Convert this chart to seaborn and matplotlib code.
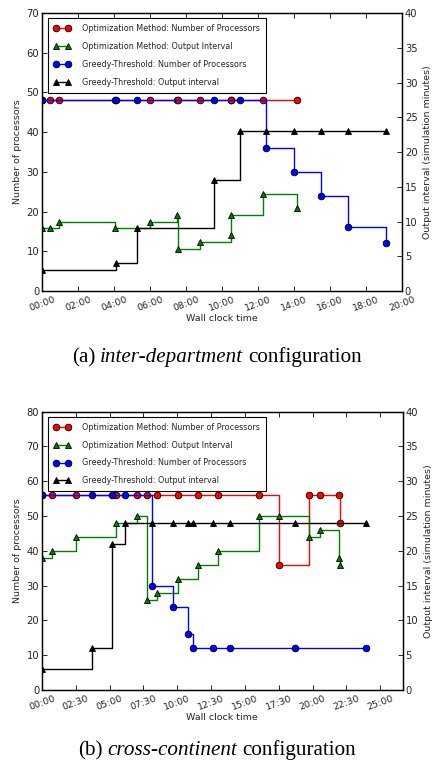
import matplotlib
matplotlib.use("Agg")
import matplotlib.pyplot as plt
import seaborn as sns
import pandas as pd
from matplotlib.lines import Line2D
from matplotlib.ticker import FuncFormatter, MultipleLocator

# ---------------- data (hours of wall clock time) ----------------
# (a) inter-department
a_opt_time = [0.0, 0.44, 0.96, 4.06, 6.0, 7.48, 7.57, 8.79, 10.49, 10.52, 12.3, 14.17]
a_opt_procs = [48, 48, 48, 48, 48, 48, 48, 48, 48, 48, 48, 48]
a_opt_interval = [9, 9, 10, 9, 10, 11, 6, 7, 8, 11, 14, 12]
a_greedy_time = [0.0, 4.1, 5.26, 9.53, 11.02, 12.46, 14.0, 15.51, 17.0, 19.1]
a_greedy_procs = [48, 48, 48, 48, 48, 36, 30, 24, 16, 12]
a_greedy_interval = [3, 4, 9, 16, 23, 23, 23, 23, 23, 23]

# (b) cross-continent
b_opt_time = [0.0, 0.76, 2.51, 5.49, 7.0, 7.78, 8.52, 10.03, 11.53, 13.03, 16.02,
              17.52, 19.71, 20.52, 21.97, 22.02]
b_opt_procs = [56, 56, 56, 56, 56, 56, 56, 56, 56, 56, 56, 36, 56, 56, 56, 48]
b_opt_interval = [19, 20, 22, 24, 25, 13, 14, 16, 18, 20, 25, 25, 22, 23, 19, 18]
b_greedy_time = [0.0, 3.67, 5.15, 6.11, 8.15, 9.66, 10.77, 11.18, 12.66, 13.92, 18.67, 23.95]
b_greedy_procs = [56, 56, 56, 56, 30, 24, 16, 12, 12, 12, 12, 12]
b_greedy_interval = [3, 6, 21, 24, 24, 24, 24, 24, 24, 24, 24, 24]

legend_labels = ["Optimization Method: Number of Processors",
                 "Optimization Method: Output Interval",
                 "Greedy-Threshold: Number of Processors",
                 "Greedy-Threshold: Output interval"]
captions = [("(a)", "inter-department", "configuration"),
            ("(b)", "cross-continent", "configuration")]

# ---------------- style ----------------
sns.set_theme(style="ticks")
plt.rcParams["font.family"] = ["DejaVu Sans"]
plt.rcParams["xtick.direction"] = "in"
plt.rcParams["ytick.direction"] = "in"
plt.rcParams["axes.linewidth"] = 0.9
plt.rcParams["axes.edgecolor"] = "black"

RED, GREEN, BLUE, BLACK = "#ff0000", "#008000", "#0000ff", "#000000"
styles = [
    dict(color=RED, marker="o"),
    dict(color=GREEN, marker="^"),
    dict(color=BLUE, marker="o"),
    dict(color=BLACK, marker="^"),
]
common = dict(linewidth=1.0, markersize=4.8, markeredgecolor="black",
              markeredgewidth=0.6)

fig = plt.figure(figsize=(4.32, 7.63), dpi=100)
W, H = 432.0, 763.0


def hhmm(v, pos=None):
    h = int(v + 1e-9)
    m = int(round((v - h) * 60))
    if m == 60:
        h, m = h + 1, 0
    return "%02d:%02d" % (h, m)


def draw_series(ax, t, y, st):
    df = pd.DataFrame({"t": t, "y": y})
    sns.lineplot(data=df, x="t", y="y", ax=ax, estimator=None, sort=False,
                 drawstyle="steps-post", legend=False, **st, **common)


def panel(rect, opt_t, opt_p, opt_i, gr_t, gr_p, gr_i, xmax, xstep, ymax_left):
    ax = fig.add_axes(rect)
    ax2 = ax.twinx()
    draw_series(ax, opt_t, opt_p, styles[0])
    draw_series(ax, gr_t, gr_p, styles[2])
    draw_series(ax2, opt_t, opt_i, styles[1])
    draw_series(ax2, gr_t, gr_i, styles[3])

    ax.set_xlim(0, xmax)
    ax.set_ylim(0, ymax_left)
    ax2.set_ylim(0, 40)
    ax.xaxis.set_major_locator(MultipleLocator(xstep))
    ax.xaxis.set_major_formatter(FuncFormatter(hhmm))
    ax.yaxis.set_major_locator(MultipleLocator(10))
    ax2.yaxis.set_major_locator(MultipleLocator(5))
    ax.tick_params(axis="x", top=True, bottom=True, direction="in", length=3.5,
                   width=0.7, labelsize=6.8, pad=3, rotation=20)
    ax.tick_params(axis="y", left=True, right=False, direction="in", length=3.5,
                   width=0.7, labelsize=7.2, pad=2)
    ax2.tick_params(axis="y", right=True, direction="in", length=3.5, width=0.7,
                    labelsize=7.2, pad=2)
    for lab in ax.get_xticklabels():
        lab.set_ha("center")
    ax.set_xlabel("Wall clock time", fontsize=6.8, labelpad=1)
    ax.set_ylabel("Number of processors", fontsize=6.8, labelpad=3)
    ax2.set_ylabel("Output interval (simulation minutes)", fontsize=6.8, labelpad=4)
    for s in ax2.spines.values():
        s.set_color("black")

    handles = [Line2D([], [], **st, **common) for st in styles]
    leg = ax2.legend(handles, legend_labels, loc="upper left",
                     bbox_to_anchor=(0.012, 0.988), fontsize=5.8, numpoints=2,
                     handlelength=2.0, handletextpad=1.5, labelspacing=1.1,
                     borderpad=0.75, borderaxespad=0.2, fancybox=False,
                     frameon=True, framealpha=1.0)
    leg.get_frame().set_edgecolor("black")
    leg.get_frame().set_linewidth(0.8)
    return ax, ax2


panel([42 / W, 1 - 291 / H, 360 / W, 278 / H],
      a_opt_time, a_opt_procs, a_opt_interval,
      a_greedy_time, a_greedy_procs, a_greedy_interval, 20, 2, 70)
panel([42 / W, 1 - 690 / H, 360.7 / W, 278.3 / H],
      b_opt_time, b_opt_procs, b_opt_interval,
      b_greedy_time, b_greedy_procs, b_greedy_interval, 26.66, 2.5, 80)


def caption(cx_px, base_px, parts, size=15.2):
    renderer = fig.canvas.get_renderer()
    fonts = [dict(family="Liberation Serif", style="normal"),
             dict(family="Liberation Serif", style="italic"),
             dict(family="Liberation Serif", style="normal")]
    gap = size * 100 / 72 * 0.25
    texts = []
    for p, f in zip(parts, fonts):
        t = fig.text(0, 1 - base_px / H, p, fontsize=size, va="baseline",
                     ha="left", color="black", **f)
        texts.append(t)
    widths = [t.get_window_extent(renderer).width for t in texts]
    total = sum(widths) + gap * (len(widths) - 1)
    x = cx_px - total / 2
    for t, w in zip(texts, widths):
        t.set_x(x / W)
        x += w + gap


caption(217, 362, captions[0])
caption(217, 755, captions[1])

fig.savefig("out.png", dpi=100)
